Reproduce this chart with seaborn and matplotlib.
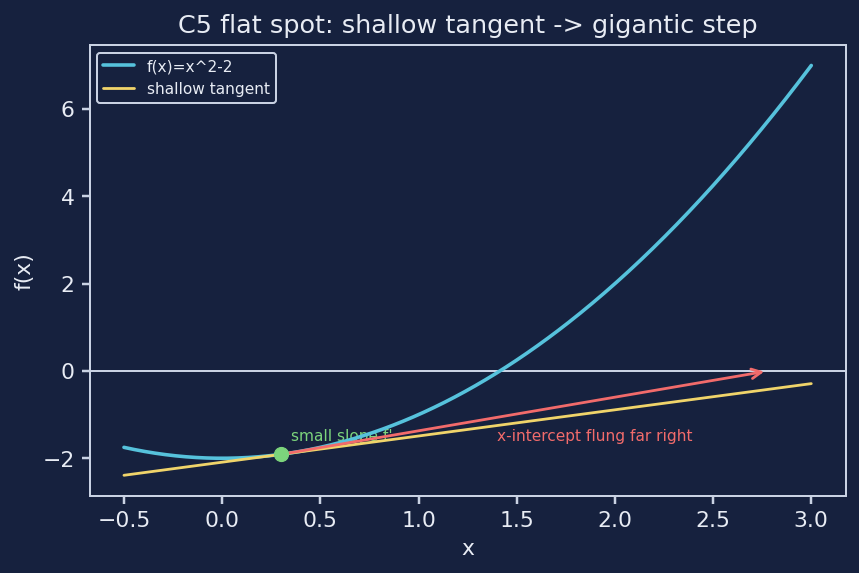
import numpy as np
import pandas as pd
import matplotlib
matplotlib.use("Agg")
import matplotlib.pyplot as plt
import seaborn as sns

BG = "#16213e"
FG = "#e8ecf4"
SPINE = "#c9d2e3"
CURVE = "#56c2dc"
TAN = "#f0d46a"
ARROW = "#f26b6b"
PT = "#7cd47c"

# data
x_range = [-0.5, 3.0]
x0 = 0.3
arrow_end = [2.78, 0.0]
labels = ["f(x)=x^2-2", "shallow tangent"]

x = np.linspace(x_range[0], x_range[1], 400)
fx = x**2 - 2
f0 = x0**2 - 2
slope = 2 * x0
tan = f0 + slope * (x - x0)

df = pd.DataFrame({"x": x, "f": fx, "t": tan})

sns.set_theme(style="dark")
plt.rcParams.update({
    "figure.facecolor": BG, "axes.facecolor": BG, "axes.edgecolor": SPINE,
    "text.color": FG, "axes.labelcolor": FG, "xtick.color": FG, "ytick.color": FG,
})
plt.rcParams["font.family"] = ["DejaVu Sans"]

fig, ax = plt.subplots(figsize=(6, 4), dpi=143.33)
ax.axhline(0, color=SPINE, lw=1, zorder=1)
ax.text(0.35, -1.6, "small slope f'", color=PT, fontsize=7.75, zorder=1)
sns.lineplot(data=df, x="x", y="f", color=CURVE, lw=1.8, label=labels[0], ax=ax, zorder=3)
sns.lineplot(data=df, x="x", y="t", color=TAN, lw=1.4, label=labels[1], ax=ax, zorder=3)
ax.annotate("", xy=tuple(arrow_end), xytext=(x0, f0),
            arrowprops=dict(arrowstyle="->", color=ARROW, lw=1.4), zorder=4)
ax.text(1.4, -1.6, "x-intercept flung far right", color=ARROW, fontsize=7.75, zorder=4)
sns.scatterplot(x=[x0], y=[f0], color=PT, s=50, edgecolor=PT, ax=ax, zorder=5)

for s in ax.spines.values():
    s.set_color(SPINE)
    s.set_linewidth(1)
ax.tick_params(axis="both", which="both", bottom=True, left=True, length=4, color=SPINE, labelsize=11)
ax.grid(False)
ax.set_xlabel("x", fontsize=11)
ax.set_ylabel("f(x)", fontsize=11)
ax.set_title("C5 flat spot: shallow tangent -> gigantic step", fontsize=12.8, color=FG)
leg = ax.legend(loc="upper left", fontsize=7.75, facecolor=BG, edgecolor=SPINE, framealpha=1)
for t in leg.get_texts():
    t.set_color(FG)
fig.tight_layout(pad=0.6)
fig.savefig("out.png", dpi=143.33, facecolor=BG)
